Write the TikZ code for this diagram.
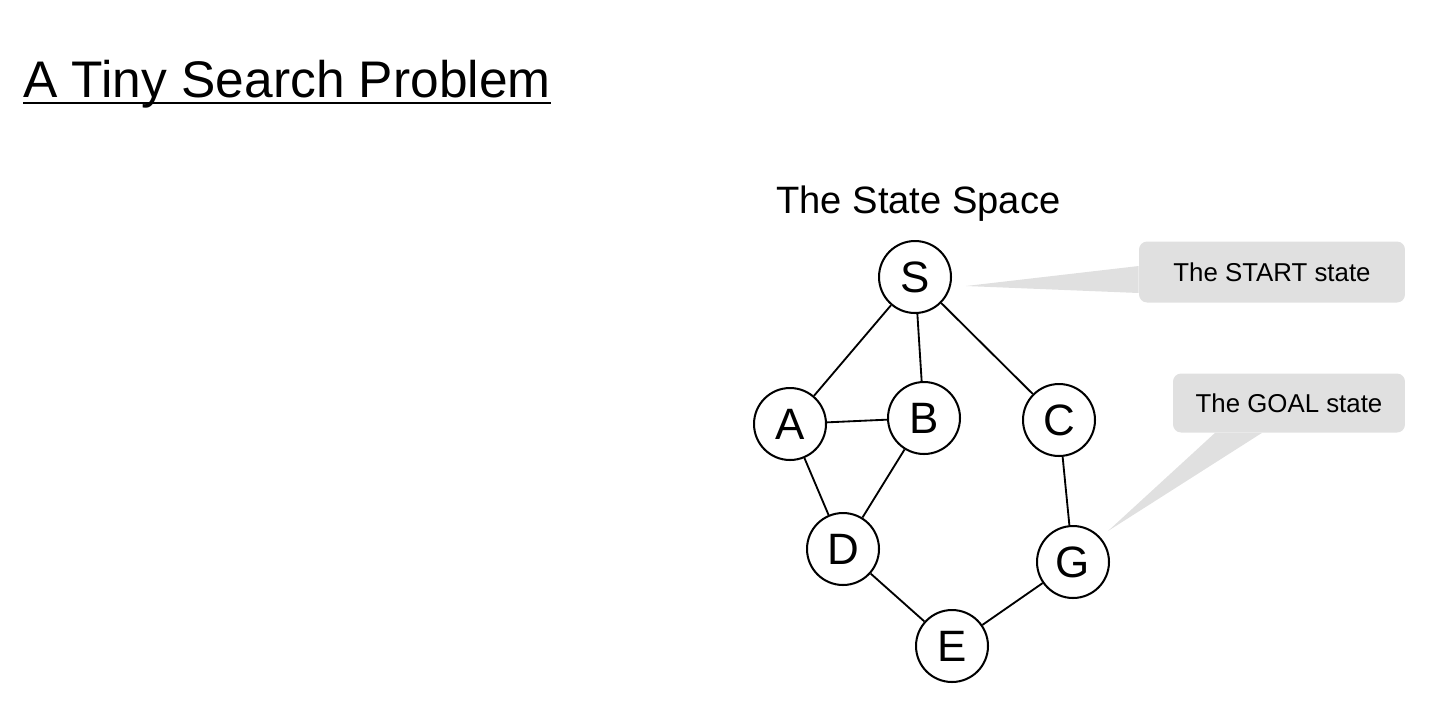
\documentclass[tikz,border=0pt]{standalone}
\usepackage{fontspec}
\setmainfont{Liberation Sans}
\definecolor{notegray}{RGB}{224,224,224}
\tikzset{
  state/.style={circle,draw,line width=1.15pt,minimum size=1.44cm,inner sep=0pt,font=\fontsize{25}{29}\selectfont},
  note/.style={fill=notegray,rounded corners=0.16cm,inner sep=0pt,font=\fontsize{14.7}{17}\selectfont},
  link/.style={line width=1.05pt}
}
\begin{document}
\begin{tikzpicture}[x=0.02cm,y=-0.02cm]
    \useasboundingbox (0,0) rectangle (1450,718);
    \node[anchor=base west,inner sep=0pt,font=\fontsize{29.3}{35}\selectfont] (title) at (23,97) {A Tiny Search Problem};
    \draw[line width=1.4pt] ([yshift=-0.12cm]title.base west) -- ([yshift=-0.12cm]title.base east);
    \node[anchor=base west,inner sep=0pt,font=\fontsize{21.7}{26}\selectfont] (space) at (776,213) {The State Space};
    \node[state] (S) at (915,277) {S};
    \node[state] (A) at (790,424) {A};
    \node[state] (B) at (924,418) {B};
    \node[state] (C) at (1059,420) {C};
    \node[state] (D) at (843,549) {D};
    \node[state] (G) at (1073,562) {G};
    \node[state] (E) at (952,646) {E};
    \draw[link] (S) edge (A) edge (B) edge (C);
    \draw[link] (A) edge (B) edge (D);
    \draw[link] (D) edge (B) edge (E);
    \draw[link] (G) edge (C) edge (E);
    \node[note,minimum width=5.32cm,minimum height=1.22cm] (startnote) at (1272,272) {The START state};
    \node[note,minimum width=4.64cm,minimum height=1.18cm] (goalnote) at (1289,403) {The GOAL state};
    \coordinate (starttip) at (966,286);
    \coordinate (goaltip) at (1108,531);
    \fill[notegray] ([yshift=0.12cm]startnote.west) -- (starttip) -- ([yshift=-0.42cm]startnote.west) -- cycle;
    \fill[notegray] ([xshift=-1.48cm]goalnote.south) -- (goaltip) -- ([xshift=-0.54cm]goalnote.south) -- cycle;
\end{tikzpicture}
\end{document}
